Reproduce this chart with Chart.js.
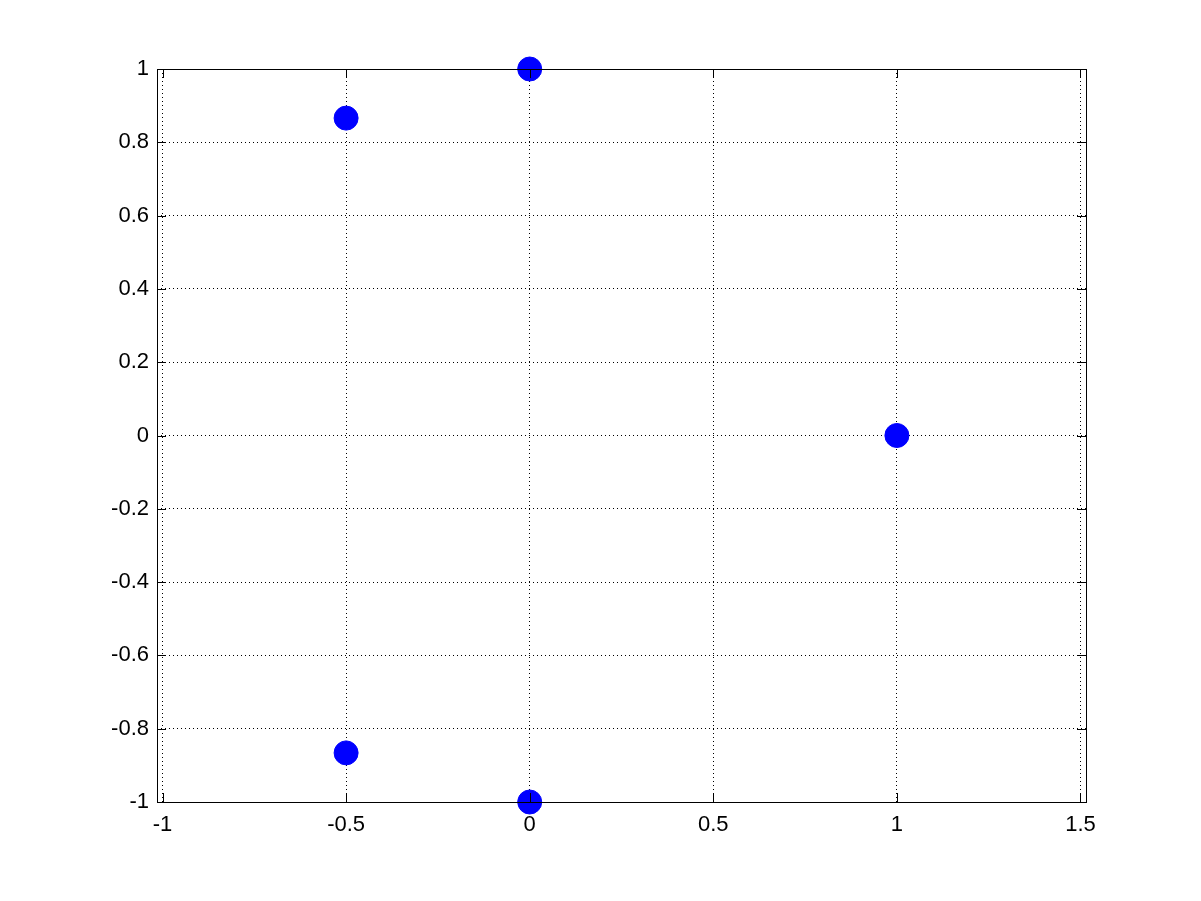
<!DOCTYPE html>
<html lang="en">
<head>
  <meta charset="UTF-8" />
  <title>Scatter</title>
  <script src="https://cdn.jsdelivr.net/npm/chart.js"></script>
  <style>
    html, body { margin: 0; padding: 0; background: #fff; }
    canvas { display: block; }
  </style>
</head>
<body>
  <canvas id="plot" width="1201" height="901"></canvas>

  <script>
    // point data
    const xValues = [-0.5, 0, 1, -0.5, 0];
    const yValues = [0.866, 1, 0, -0.866, -1];

    // axis ticks
    const xTicks = [-1, -0.5, 0, 0.5, 1, 1.5];
    const yTicks = [-1, -0.8, -0.6, -0.4, -0.2, 0, 0.2, 0.4, 0.6, 0.8, 1];

    const fmt = v => String(+v.toFixed(2));

    // box around the plot + inward tick marks, drawn on top like matlab
    const boxPlugin = {
      id: 'box',
      afterDatasetsDraw(chart) {
        const { ctx, chartArea: a, scales } = chart;
        const len = 9;
        ctx.save();
        ctx.strokeStyle = '#000';
        ctx.lineWidth = 1;
        ctx.beginPath();
        scales.x.ticks.forEach(t => {
          const px = Math.round(scales.x.getPixelForValue(t.value)) + 0.5;
          ctx.moveTo(px, a.bottom); ctx.lineTo(px, a.bottom - len);
          ctx.moveTo(px, a.top); ctx.lineTo(px, a.top + len);
        });
        scales.y.ticks.forEach(t => {
          const py = Math.round(scales.y.getPixelForValue(t.value)) + 0.5;
          ctx.moveTo(a.left, py); ctx.lineTo(a.left + len, py);
          ctx.moveTo(a.right, py); ctx.lineTo(a.right - len, py);
        });
        ctx.stroke();
        ctx.strokeRect(Math.round(a.left) + 0.5, Math.round(a.top) + 0.5,
          Math.round(a.right - a.left), Math.round(a.bottom - a.top));
        ctx.restore();
      }
    };

    const font = { family: '"Liberation Sans", Arial, sans-serif', size: 22 };

    new Chart(document.getElementById('plot'), {
      type: 'scatter',
      data: {
        datasets: [{
          data: xValues.map((x, i) => ({ x, y: yValues[i] })),
          backgroundColor: '#0000ff',
          borderColor: '#0000ff',
          borderWidth: 1,
          pointRadius: 12,
          clip: false
        }]
      },
      options: {
        responsive: false,
        animation: false,
        layout: { padding: { left: 0, right: 115, top: 69, bottom: 0 } },
        plugins: { legend: { display: false }, tooltip: { enabled: false } },
        scales: {
          x: {
            type: 'linear',
            min: -1.015,
            max: 1.515,
            afterBuildTicks: s => { s.ticks = xTicks.map(v => ({ value: v })); },
            afterFit: s => { s.height = 99; },
            grid: { color: '#000', drawTicks: false, lineWidth: 1 },
            border: { display: false, dash: [1, 3] },
            ticks: { color: '#000', font, padding: 10, maxRotation: 0, autoSkip: false, callback: fmt }
          },
          y: {
            min: -1,
            max: 1,
            afterBuildTicks: s => { s.ticks = yTicks.map(v => ({ value: v })); },
            afterFit: s => { s.width = 157; },
            grid: { color: '#000', drawTicks: false, lineWidth: 1 },
            border: { display: false, dash: [1, 3] },
            ticks: { color: '#000', font, padding: 8, autoSkip: false, callback: fmt }
          }
        }
      },
      plugins: [boxPlugin]
    });
  </script>
</body>
</html>
